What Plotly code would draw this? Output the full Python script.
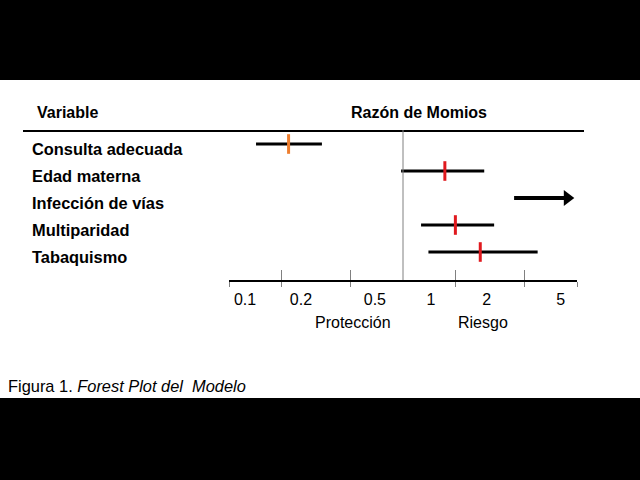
import plotly.graph_objects as go

variables = ["Consulta adecuada", "Edad materna", "Infección de vías", "Multiparidad", "Tabaquismo"]
odds_ratio = [0.22, 1.74, None, 2.0, 2.78]
ci_low = [0.143, 0.975, 4.35, 1.27, 1.40]
ci_high = [0.342, 2.93, 8.8, 3.34, 5.94]   # Infección: upper limit out of range -> arrow
arrow_rows = ["Infección de vías"]
marker_colors = ["#EE7E2E", "#E0191E", "#E0191E", "#E0191E", "#E0191E"]

tick_vals = [0.1, 0.2, 0.5, 2, 5, 10]
label_vals = [0.1, 0.2, 0.5, 1, 2, 5]
label_text = ["0.1", "0.2", "0.5", "1", "2", "5"]

W, H = 640, 480
FONT = "Liberation Sans, Arial, sans-serif"


def X(px):
    return px / W


def Y(py):
    return 1 - py / H


fig = go.Figure()

# confidence interval lines (normal rows)
xs, ys = [], []
for v, lo, hi in zip(variables, ci_low, ci_high):
    if v in arrow_rows:
        continue
    xs += [lo, hi, None]
    ys += [v, v, None]
fig.add_trace(go.Scatter(x=xs, y=ys, mode="lines",
                         line=dict(color="black", width=3), hoverinfo="skip"))

# arrow rows
for v, lo, hi in zip(variables, ci_low, ci_high):
    if v not in arrow_rows:
        continue
    fig.add_trace(go.Scatter(x=[lo, hi], y=[v, v], mode="lines",
                             line=dict(color="black", width=4), hoverinfo="skip"))
    fig.add_trace(go.Scatter(x=[hi], y=[v], mode="markers",
                             marker=dict(symbol="triangle-right", size=14, color="black"),
                             hoverinfo="skip"))

# point estimates
pts = [(v, o, c) for v, o, c in zip(variables, odds_ratio, marker_colors) if o is not None]
fig.add_trace(go.Scatter(
    x=[p[1] for p in pts], y=[p[0] for p in pts], mode="markers",
    marker=dict(symbol="line-ns", size=14,
                line=dict(width=3, color=[p[2] for p in pts])),
))

# shapes: header rule, reference line, black bands
shapes = [
    dict(type="line", xref="paper", yref="paper", x0=X(23), x1=X(584), y0=Y(131), y1=Y(131),
         line=dict(color="black", width=2)),
    dict(type="line", xref="x", yref="paper", x0=1, x1=1, y0=Y(130), y1=Y(280),
         line=dict(color="#808080", width=1)),
    dict(type="rect", xref="paper", yref="paper", x0=0, x1=1, y0=Y(80), y1=1,
         fillcolor="black", line=dict(width=0), layer="above"),
    dict(type="rect", xref="paper", yref="paper", x0=0, x1=1, y0=0, y1=Y(398),
         fillcolor="black", line=dict(width=0), layer="above"),
]

annotations = [
    dict(text="<b>Variable</b>", x=X(35), y=Y(112), xanchor="left", yanchor="middle",
         font=dict(size=16)),
    dict(text="<b>Razón de Momios</b>", x=X(419), y=Y(112), xanchor="center", yanchor="middle",
         font=dict(size=16)),
    dict(text="Protección", x=X(353), y=Y(322), xanchor="center", yanchor="middle",
         font=dict(size=16)),
    dict(text="Riesgo", x=X(483), y=Y(322), xanchor="center", yanchor="middle",
         font=dict(size=16)),
    dict(text="Figura 1. <i>Forest Plot del &nbsp;Modelo</i>", x=X(6), y=Y(386),
         xanchor="left", yanchor="middle", font=dict(size=16.4)),
]
for v in variables:
    annotations.append(dict(text="<b>%s</b>" % v, x=X(30), xref="paper", y=v, yref="y",
                            xanchor="left", yanchor="middle", yshift=-5,
                            font=dict(size=16.4)))
for a in annotations:
    a.setdefault("xref", "paper")
    a.setdefault("yref", "paper")
    a["showarrow"] = False

fig.update_layout(
    width=W, height=H,
    margin=dict(l=0, r=0, t=0, b=0, autoexpand=False),
    paper_bgcolor="white", plot_bgcolor="rgba(0,0,0,0)",
    font=dict(family=FONT, color="black"),
    showlegend=False,
    shapes=shapes,
    annotations=annotations,
    xaxis=dict(type="log", domain=[X(229), X(577)], range=[-1, 1],
               anchor="free", position=Y(281),
               showline=True, linecolor="black", linewidth=2,
               showgrid=False, zeroline=False,
               tickvals=tick_vals, ticks="inside", ticklen=10,
               tickcolor="#808080", tickwidth=1, showticklabels=False),
    xaxis3=dict(type="log", domain=[X(229), X(577)], range=[-1, 1],
                overlaying="x", anchor="free", position=Y(281),
                showline=False, showgrid=False, zeroline=False,
                tickvals=tick_vals, ticks="outside", ticklen=5,
                tickcolor="#808080", tickwidth=1, showticklabels=False),
    xaxis2=dict(type="log", domain=[X(245), X(616.7)], range=[-1, 1],
                anchor="free", position=Y(288),
                showline=False, showgrid=False, zeroline=False, ticks="",
                tickvals=label_vals, ticktext=label_text,
                tickfont=dict(size=16, color="black")),
    yaxis=dict(type="category", categoryarray=variables, categoryorder="array",
               domain=[0, 1], range=[(H - 144) / 27, -144 / 27], visible=False),
)

# dummy traces so the helper axes are drawn
fig.add_trace(go.Scatter(x=[1], y=[variables[0]], xaxis="x2", mode="markers",
                         marker=dict(opacity=0), hoverinfo="skip"))
fig.add_trace(go.Scatter(x=[1], y=[variables[0]], xaxis="x3", mode="markers",
                         marker=dict(opacity=0), hoverinfo="skip"))

fig.write_html("out.html", config={"responsive": False, "displayModeBar": False},
               post_script="document.body.style.margin='0';"
                           "document.body.style.overflow='hidden';")
